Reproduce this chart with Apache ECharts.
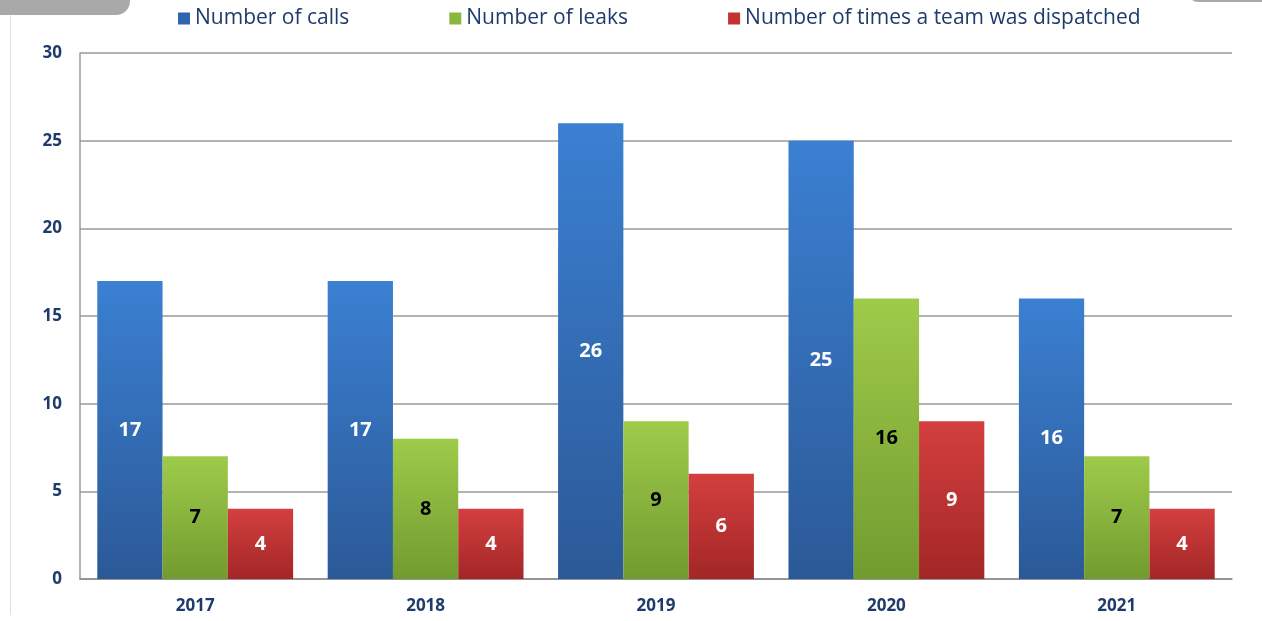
<!DOCTYPE html>
<html>
<head>
<meta charset="utf-8">
<script src="https://cdn.jsdelivr.net/npm/echarts@6/dist/echarts.min.js"></script>
<style>
  html, body { margin: 0; padding: 0; background: #fff; }
  #main { width: 1262px; height: 621px; }
</style>
</head>
<body>
<div id="main"></div>
<script>
// data
var years = ['2017', '2018', '2019', '2020', '2021']
var calls = [17, 17, 26, 25, 16]
var leaks = [7, 8, 9, 16, 7]
var dispatched = [4, 4, 6, 9, 4]
var yTicks = [0, 5, 10, 15, 20, 25, 30]

var textBlue = '#1f3b6b'

function grad(top, bottom) {
  return new echarts.graphic.LinearGradient(0, 0, 0, 1, [
    { offset: 0, color: top },
    { offset: 1, color: bottom }
  ])
}

function barSeries(name, data, top, bottom, labelColor) {
  return {
    name: name,
    type: 'bar',
    data: data,
    barGap: '0%',
    barCategoryGap: '15%',
    itemStyle: { color: grad(top, bottom) },
    label: {
      show: true,
      position: 'inside',
      color: labelColor,
      fontWeight: 'bold',
      fontSize: 20,
      fontFamily: 'Open Sans'
    }
  }
}

var chart = echarts.init(document.getElementById('main'))
var option = {
  animation: false,
  graphic: [
    { type: 'rect', left: -20, top: -20, shape: { width: 150, height: 35, r: [0, 0, 14, 0] }, style: { fill: '#a9a9a9' } },
    { type: 'rect', left: 1188, top: -20, shape: { width: 90, height: 22, r: [0, 0, 0, 10] }, style: { fill: '#a9a9a9' } },
    { type: 'rect', left: 10, top: 15, shape: { width: 1, height: 600 }, style: { fill: '#d6e4f0' } }
  ],
  legend: {
    top: 3,
    left: 173,
    itemWidth: 12,
    itemHeight: 12,
    itemGap: 100,
    icon: 'rect',
    textStyle: { color: textBlue, fontSize: 21, fontFamily: 'Open Sans' },
    data: [
      { name: 'Number of calls', itemStyle: { color: '#2f66b0' } },
      { name: 'Number of leaks', itemStyle: { color: '#8ab83c' } },
      { name: 'Number of times a team was dispatched', itemStyle: { color: '#c43232' } }
    ]
  },
  grid: { left: 80, right: 30, top: 53, bottom: 42 },
  xAxis: {
    type: 'category',
    data: years,
    axisTick: { show: false },
    axisLine: { lineStyle: { color: '#8c8c8c', width: 1.5 } },
    axisLabel: { color: textBlue, fontWeight: 'bold', fontSize: 17, margin: 19, fontFamily: 'Open Sans' }
  },
  yAxis: {
    type: 'value',
    min: yTicks[0],
    max: yTicks[yTicks.length - 1],
    interval: 5,
    axisLine: { show: true, lineStyle: { color: '#9a9a9a', width: 1.5 } },
    axisTick: { show: false },
    splitLine: { lineStyle: { color: '#9a9a9a', width: 1.5 } },
    axisLabel: { color: textBlue, fontWeight: 'bold', fontSize: 17, margin: 18, fontFamily: 'Open Sans' }
  },
  series: [
    barSeries('Number of calls', calls, '#3b80d2', '#2b5997', '#ffffff'),
    barSeries('Number of leaks', leaks, '#9fcb4a', '#729b2f', '#000000'),
    barSeries('Number of times a team was dispatched', dispatched, '#d43f3f', '#a32626', '#ffffff')
  ]
}
chart.setOption(option)
</script>
</body>
</html>
